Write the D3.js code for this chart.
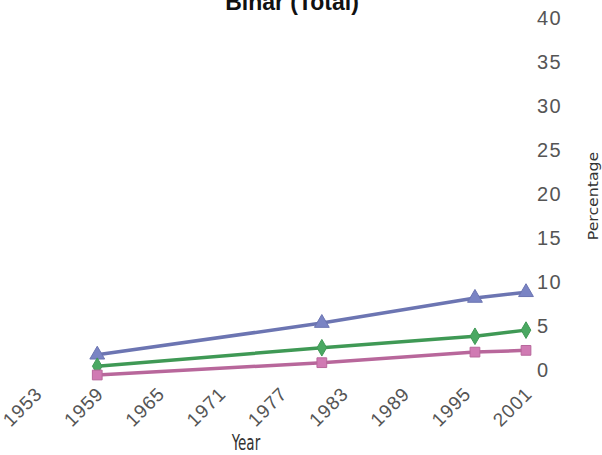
<!DOCTYPE html>
<html>
<head>
<meta charset="utf-8">
<script src="https://cdn.jsdelivr.net/npm/d3@7"></script>
<style>
  html, body { margin: 0; padding: 0; background: #fff; }
  svg { display: block; }
  text { font-family: "Liberation Sans", Arial, sans-serif; }
</style>
</head>
<body>
<svg id="chart" width="602" height="455"></svg>
<script>
// ─── Data ─────────────────────────────────────────────────────
const years = [1959, 1981, 1996, 2001];
const seriesNames = ['Series A', 'Series B', 'Series C'];
const valuesA = [2.3, 5.9, 8.75, 9.4];   // blue, triangles
const valuesB = [1.0, 3.1, 4.4, 5.1];    // green, diamonds
const valuesC = [0.0, 1.4, 2.6, 2.8];    // pink, squares
const xTicks = [1953, 1959, 1965, 1971, 1977, 1983, 1989, 1995, 2001];
const yTicks = [0, 5, 10, 15, 20, 25, 30, 35, 40];

const series = [
  { name: seriesNames[0], values: valuesA, line: '#6c75b2', fill: '#7a84c4', shape: d3.symbolTriangle, size: 95 },
  { name: seriesNames[1], values: valuesB, line: '#3f9955', fill: '#4aa862', shape: d3.symbolDiamond, size: 80 },
  { name: seriesNames[2], values: valuesC, line: '#b8679b', fill: '#d07ab3', shape: d3.symbolSquare, size: 95 },
];

const svg = d3.select('#chart');

const x = d3.scaleLinear().domain([1953, 2001]).range([36, 526]);
const y = d3.scaleLinear().domain([0, 40]).range([375, 23]);

// title, partly cut off at the top edge as in the source
svg.append('text')
  .attr('x', 292).attr('y', 10)
  .attr('text-anchor', 'middle')
  .attr('font-size', 23).attr('font-weight', 'bold')
  .attr('fill', '#111')
  .text('Bihar (Total)');

// ─── Axes ─────────────────────────────────────────────────────
const xAxis = svg.append('g')
  .attr('transform', 'translate(0,395)')
  .call(d3.axisBottom(x).tickValues(xTicks).tickFormat(d3.format('d')).tickSize(0));
xAxis.select('.domain').remove();
xAxis.selectAll('text')
  .attr('font-size', 19)
  .attr('fill', '#555')
  .attr('letter-spacing', 1)
  .attr('text-anchor', 'end')
  .attr('dy', 0)
  .attr('y', 0)
  .attr('transform', 'translate(7,0) rotate(-45)');

const yAxis = svg.append('g')
  .attr('transform', 'translate(537,0)')
  .call(d3.axisRight(y).tickValues(yTicks).tickSize(0).tickPadding(0));
yAxis.select('.domain').remove();
yAxis.selectAll('text')
  .attr('font-size', 20)
  .attr('fill', '#555')
  .attr('letter-spacing', 1.5)
  .attr('text-anchor', 'start')
  .attr('transform', 'translate(0,-5)');

// axis titles
svg.append('text')
  .attr('transform', 'translate(246,450) scale(1,1.4)')
  .attr('text-anchor', 'middle')
  .attr('font-size', 15)
  .attr('fill', '#333')
  .style('font-family', '"Liberation Sans Narrow", "DejaVu Sans Condensed", sans-serif')
  .text('Year');

svg.append('text')
  .attr('transform', 'translate(598,196) rotate(-90) scale(1.25,1)')
  .attr('text-anchor', 'middle')
  .attr('font-size', 14)
  .attr('fill', '#333')
  .style('font-family', '"Liberation Sans Narrow", "DejaVu Sans Condensed", sans-serif')
  .text('Percentage');

// ─── Lines and markers ────────────────────────────────────────
const line = d3.line()
  .x((d, i) => x(years[i]))
  .y(d => y(d));

const groups = svg.selectAll('g.series')
  .data(series)
  .enter()
  .append('g')
  .attr('class', 'series');

groups.append('path')
  .attr('d', s => line(s.values))
  .attr('fill', 'none')
  .attr('stroke', s => s.line)
  .attr('stroke-width', 3.5)
  .attr('stroke-linejoin', 'round');

groups.each(function (s) {
  d3.select(this).selectAll('path.marker')
    .data(s.values)
    .enter()
    .append('path')
    .attr('class', 'marker')
    .attr('d', d3.symbol().type(s.shape).size(s.size))
    .attr('transform', (d, i) => `translate(${x(years[i])},${y(d)})`)
    .attr('fill', s.fill)
    .attr('stroke', s.line)
    .attr('stroke-width', 1);
});
</script>
</body>
</html>
